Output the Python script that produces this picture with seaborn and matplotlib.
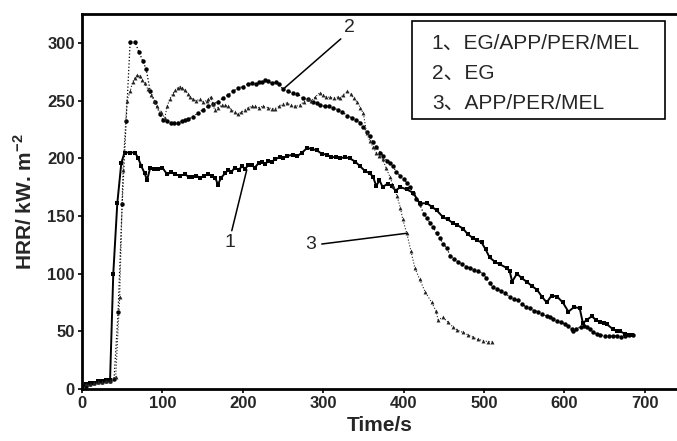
import matplotlib
matplotlib.use("Agg")
import matplotlib.pyplot as plt
import seaborn as sns
import pandas as pd
from matplotlib.patches import Rectangle

# ---- data ----
t1 = [0,5,10,15,20,25,30,35,39,44,49,53,60,66,70,74,78,81,85,90,95,100,106,111,116,122,128,133,137,142,147,152,157,162,166,169,173,178,182,186,190,195,199,203,207,211,215,220,224,228,232,236,240,246,250,255,262,268,274,280,286,292,298,305,310,316,321,327,333,340,346,352,358,362,366,370,374,380,385,390,396,404,412,420,429,435,441,449,455,461,467,474,480,486,491,497,502,507,514,520,528,532,535,541,547,553,560,566,572,578,584,591,598,605,612,619,623,628,634,639,644,649,653,660,665,669,675,680,684]
hrr1 = [2,4,5,5,7,7,8,8,100,161,196,205,205,205,200,193,187,181,192,191,191,192,186,188,186,185,186,184,184,185,183,185,186,185,183,177,183,187,190,188,192,190,193,191,194,194,192,196,197,195,198,197,199,201,200,202,203,202,205,209,208,207,204,203,201,201,200,201,200,197,193,189,187,184,176,181,175,178,176,172,175,173,170,161,161,158,155,149,147,144,142,139,134,131,129,127,121,114,110,108,105,102,93,100,96,93,89,86,80,75,81,80,75,67,71,70,57,60,63,60,58,57,56,52,50,50,48,47,47]

t2 = [0,5,10,15,20,25,30,35,40,45,50,55,60,66,71,76,80,85,91,97,101,106,111,115,119,124,128,132,138,144,150,157,163,169,175,182,188,194,200,206,211,216,220,224,228,232,236,241,245,250,256,262,268,275,281,287,292,296,302,307,312,318,324,330,336,341,346,350,354,358,362,366,371,375,379,383,387,391,396,400,404,408,412,416,420,425,429,433,437,441,445,449,454,458,463,468,473,478,483,488,493,499,503,507,511,516,521,526,532,537,542,547,552,557,562,567,572,578,582,586,591,596,601,605,609,611,615,620,624,628,632,636,640,644,650,655,660,665,670,675,680,685]
hrr2 = [3,3,4,5,6,6,7,7,9,67,160,232,301,301,292,284,277,258,249,238,233,232,231,231,231,232,233,234,236,239,242,245,247,249,252,255,258,261,262,264,265,264,266,266,268,267,265,266,264,260,258,257,256,252,251,249,248,246,245,245,244,242,240,237,235,233,231,227,223,219,214,210,205,202,198,196,193,188,185,182,179,175,170,165,160,152,148,144,140,135,131,126,122,115,113,110,108,106,105,103,102,100,96,92,88,87,85,83,80,78,77,74,71,70,68,67,65,63,62,61,59,58,56,55,52,50,52,54,55,54,52,49,48,47,46,46,46,46,45,46,47,47]

t3 = [0,5,10,15,20,25,30,35,42,47,51,56,60,63,66,69,72,75,78,82,86,90,93,98,103,106,109,113,116,119,122,125,128,132,135,138,142,147,151,155,157,160,163,165,169,174,178,182,186,190,194,198,203,207,211,215,220,225,231,236,240,245,250,255,260,265,271,276,281,285,290,296,300,304,308,313,318,321,325,330,334,338,342,346,350,354,358,362,366,370,374,378,383,387,392,396,399,404,409,414,420,427,435,440,443,449,455,461,467,474,480,486,492,499,505,510]
hrr3 = [3,4,4,5,6,6,7,7,10,80,190,250,258,266,270,272,271,268,265,260,255,250,245,240,235,245,251,256,259,261,262,261,259,256,253,251,250,251,249,250,251,253,247,242,244,246,246,245,242,240,238,240,242,244,245,245,244,245,244,243,243,245,247,248,246,245,246,249,251,250,253,257,255,253,253,252,253,252,255,258,256,252,249,244,239,222,215,210,205,202,199,192,184,176,167,157,147,135,120,105,95,84,75,68,60,62,58,54,51,49,47,45,43,42,41,41]

labels = ["1、EG/APP/PER/MEL", "2、EG", "3、APP/PER/MEL"]
x_ticks = [0, 100, 200, 300, 400, 500, 600, 700]
y_ticks = [0, 50, 100, 150, 200, 250, 300]

sns.set_style("ticks")
plt.rcParams['font.family'] = ['Liberation Sans', 'Noto Sans CJK SC', 'DejaVu Sans']
plt.rcParams['mathtext.fontset'] = 'custom'
plt.rcParams['mathtext.rm'] = 'Liberation Sans'
plt.rcParams['mathtext.bf'] = 'Liberation Sans:bold'

fig = plt.figure(figsize=(6.77, 4.41), dpi=100)
ax = fig.add_axes([0.121, 0.118, 0.879, 0.850])

df1 = pd.DataFrame({"t": t1, "h": hrr1})
df2 = pd.DataFrame({"t": t2, "h": hrr2})
df3 = pd.DataFrame({"t": t3, "h": hrr3})

sns.lineplot(data=df1, x="t", y="h", ax=ax, color="black", linewidth=1.4,
             marker="s", markersize=2.8, markeredgewidth=0, estimator=None, sort=False)
sns.lineplot(data=df2, x="t", y="h", ax=ax, color="black", linewidth=0.9, linestyle=":",
             marker="o", markersize=3.2, markeredgewidth=0, estimator=None, sort=False)
sns.lineplot(data=df3, x="t", y="h", ax=ax, color="#222222", linewidth=0.8, linestyle=":",
             marker="^", markersize=2.8, markeredgewidth=0, estimator=None, sort=False)

ax.set_xlim(0, 740)
ax.set_ylim(0, 325)
ax.set_xticks(x_ticks)
ax.set_yticks(y_ticks)
ax.tick_params(axis="both", direction="out", length=3, width=1.2, color="black",
               labelsize=12, pad=2)
for lab in ax.get_xticklabels() + ax.get_yticklabels():
    lab.set_fontweight("bold")

ax.set_xlabel("Time/s", fontsize=15, fontweight="bold", labelpad=4)
ax.set_ylabel("HRR/ kW. m$^{\\mathbf{-2}}$", fontsize=15, fontweight="bold", labelpad=8)

for side in ["left", "bottom", "top"]:
    ax.spines[side].set_linewidth(2)
    ax.spines[side].set_color("black")
ax.spines["right"].set_visible(False)

# legend box
ax.add_patch(Rectangle((0.555, 0.72), 0.425, 0.261, transform=ax.transAxes,
                       fill=False, edgecolor="black", linewidth=1.2))
for lab, yy in zip(labels, [0.923, 0.843, 0.763]):
    ax.text(0.588, yy, lab, transform=ax.transAxes, fontsize=15, va="center", ha="left",
            fontweight="medium")

# curve labels with leader lines
ax.annotate("2", xy=(252, 261), xytext=(326, 306), fontsize=14, ha="left", va="bottom",
            arrowprops=dict(arrowstyle="-", lw=1.1, color="black", shrinkA=0, shrinkB=0,
                            relpos=(0, 0)))
ax.annotate("1", xy=(205, 190), xytext=(184, 127), fontsize=14, ha="center", va="center",
            arrowprops=dict(arrowstyle="-", lw=1.1, color="black", shrinkA=0, shrinkB=0,
                            relpos=(0.6, 1)))
ax.annotate("3", xy=(404, 135), xytext=(284, 125), fontsize=14, ha="center", va="center",
            arrowprops=dict(arrowstyle="-", lw=1.1, color="black", shrinkA=2, shrinkB=0,
                            relpos=(1, 0.5)))

fig.savefig("out.png", dpi=100)
